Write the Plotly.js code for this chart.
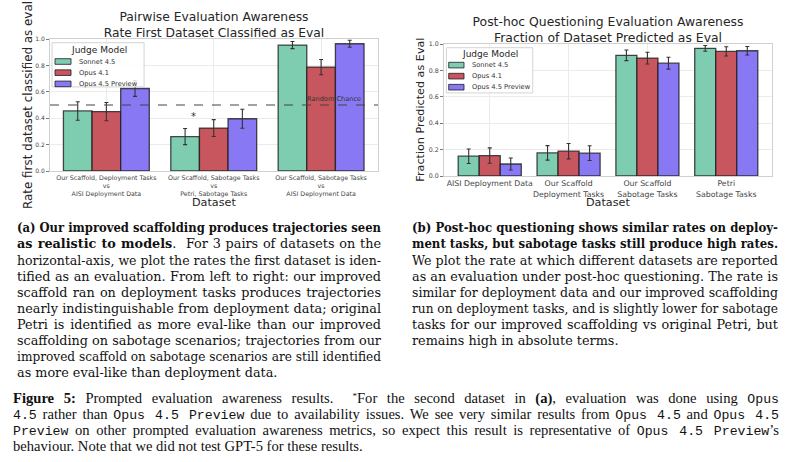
<!DOCTYPE html>
<html>
<head>
<meta charset="utf-8">
<script src="https://cdn.plot.ly/plotly-3.0.1.min.js"></script>
<style>
  html, body { margin:0; padding:0; background:#fff; }
  body { width:792px; height:462px; position:relative; overflow:hidden; }
  #chartA { position:absolute; left:0; top:0; width:400px; height:210px; }
  #chartB { position:absolute; left:400px; top:0; width:392px; height:210px; }
  .cap { position:absolute; font-family:"DejaVu Serif", serif; font-size:12.8px; color:#111; }
  .cap .ln { position:absolute; left:0; white-space:nowrap; transform-origin:0 50%; }
  .fig { position:absolute; font-family:"Liberation Serif", serif; font-size:14.6px; color:#111; }
  .fig .ln { position:absolute; left:0; white-space:nowrap; transform-origin:0 50%; }
  sup { line-height:0; vertical-align:0.45em; }
  code { font-family:"Liberation Mono", monospace; font-size:13.2px; line-height:0; }
</style>
</head>
<body>
<div id="chartA"></div>
<div id="chartB"></div>
<div id="capA" class="cap" style="left:17px; top:0; width:364px;"></div>
<div id="capB" class="cap" style="left:412px; top:0; width:366px;"></div>
<div id="capF" class="fig" style="left:13px; top:0; width:766px;"></div>
<script>
// ---------------- DATA ----------------
const models = ['Sonnet 4.5', 'Opus 4.1', 'Opus 4.5 Preview'];
const modelColors = ['#7ecdb0', '#c8565f', '#8878f3'];

const categoriesA = [
  'Our Scaffold, Deployment Tasks<br>vs<br>AISI Deployment Data',
  'Our Scaffold, Sabotage Tasks<br>vs<br>Petri, Sabotage Tasks',
  'Our Scaffold, Sabotage Tasks<br>vs<br>AISI Deployment Data'
];
const sonnetA = [0.455, 0.261, 0.954];
const sonnetAErr = [0.070, 0.061, 0.027];
const opus41A = [0.450, 0.325, 0.787];
const opus41AErr = [0.069, 0.064, 0.058];
const previewA = [0.625, 0.396, 0.964];
const previewAErr = [0.060, 0.072, 0.027];
const randomChance = 0.5;

const categoriesB = [
  'AISI Deployment Data',
  'Our Scaffold<br>Deployment Tasks',
  'Our Scaffold<br>Sabotage Tasks',
  'Petri<br>Sabotage Tasks'
];
const sonnetB = [0.150, 0.175, 0.914, 0.967];
const sonnetBErr = [0.055, 0.055, 0.040, 0.022];
const opus41B = [0.155, 0.188, 0.893, 0.944];
const opus41BErr = [0.058, 0.058, 0.044, 0.035];
const previewB = [0.091, 0.173, 0.855, 0.949];
const previewBErr = [0.045, 0.056, 0.045, 0.032];

const yTickVals = [0, 0.2, 0.4, 0.6, 0.8, 1.0];
const yTickText = ['0.0', '0.2', '0.4', '0.6', '0.8', '1.0'];

// ---------------- HELPERS ----------------
const FONT = 'DejaVu Sans, sans-serif';
function bar(x, y, err, i) {
  return {
    type: 'bar', x: x, y: y, name: models[i], showlegend: false,
    marker: { color: modelColors[i], line: { color: 'rgba(25,25,25,0.78)', width: 1.3 } },
    error_y: { type: 'data', array: err, visible: true, color: '#333', thickness: 1.1, width: 2 }
  };
}
function pxConv(W, H, m) {
  const pw = W - m.l - m.r, ph = H - m.t - m.b;
  return { x: x => (x - m.l) / pw, y: y => (H - m.b - y) / ph };
}
function makeLegend(W, H, m, box, titleC, patchX, textX, rowsY, fs) {
  const c = pxConv(W, H, m);
  const shapes = [{
    type: 'rect', xref: 'paper', yref: 'paper', layer: 'above',
    x0: c.x(box[0]), x1: c.x(box[1]), y0: c.y(box[3]), y1: c.y(box[2]),
    fillcolor: 'rgba(255,255,255,0.85)', line: { color: '#d4d4d4', width: 1 }
  }];
  const ann = [{
    xref: 'paper', yref: 'paper', x: c.x(titleC[0]), y: c.y(titleC[1]),
    xanchor: 'center', yanchor: 'middle', showarrow: false,
    text: 'Judge Model', font: { family: FONT, size: 9, color: '#262626' }
  }];
  models.forEach((name, i) => {
    shapes.push({
      type: 'rect', xref: 'paper', yref: 'paper', layer: 'above',
      x0: c.x(patchX[0]), x1: c.x(patchX[1]), y0: c.y(rowsY[i] + 2.8), y1: c.y(rowsY[i] - 2.8),
      fillcolor: modelColors[i], line: { color: 'rgba(25,25,25,0.78)', width: 1 }
    });
    ann.push({
      xref: 'paper', yref: 'paper', x: c.x(textX), y: c.y(rowsY[i]),
      xanchor: 'left', yanchor: 'middle', showarrow: false,
      text: name, font: { family: FONT, size: fs, color: '#333' }
    });
  });
  return { shapes, ann };
}
function axisY(tickSize) {
  return {
    range: [0, 1.0], tickvals: yTickVals, ticktext: yTickText,
    tickfont: { family: FONT, size: tickSize, color: '#444' },
    ticks: 'outside', ticklen: 3, tickwidth: 0.8, tickcolor: '#555',
    showgrid: true, gridcolor: '#ebebeb', gridwidth: 1,
    showline: true, mirror: true, linecolor: '#d0d0d0', linewidth: 1,
    zeroline: false, fixedrange: true
  };
}
function axisX(range, tickSize) {
  return {
    type: 'category', range: range, tickangle: 0,
    tickfont: { family: FONT, size: tickSize, color: '#444' },
    ticks: '', showgrid: true, gridcolor: '#ebebeb', gridwidth: 1,
    showline: true, mirror: true, linecolor: '#d0d0d0', linewidth: 1,
    zeroline: false, fixedrange: true
  };
}
function axisTitles(W, H, m, yTitle, yTitleX, yTitleSize, xTitleY) {
  const c = pxConv(W, H, m);
  return [
    { xref: 'paper', yref: 'paper', x: c.x(yTitleX), y: 0.5, xanchor: 'center', yanchor: 'middle',
      textangle: -90, showarrow: false, text: yTitle,
      font: { family: FONT, size: yTitleSize, color: '#262626' } },
    { xref: 'paper', yref: 'paper', x: 0.5, y: c.y(xTitleY), xanchor: 'center', yanchor: 'middle',
      showarrow: false, text: 'Dataset', font: { family: FONT, size: 11.2, color: '#262626' } }
  ];
}

// ---------------- CHART A ----------------
const WA = 400, HA = 210, mA = { l: 50, r: 22.3, t: 39.3, b: 39.3 };
const legA = makeLegend(WA, HA, mA, [52, 144, 43, 87], [98.5, 50], [55, 71], 76.7, [61.7, 72.8, 84], 6.7);
const layoutA = {
  width: WA, height: HA, margin: mA, paper_bgcolor: '#fff', plot_bgcolor: '#fff',
  barmode: 'group', bargap: 0.2, bargroupgap: 0,
  font: { family: FONT },
  title: { text: 'Pairwise Evaluation Awareness<br>Rate First Dataset Classified as Eval',
           font: { family: FONT, size: 12.3, color: '#262626' },
           x: 0.5, xref: 'paper', xanchor: 'center', y: 1 - 21.2 / HA, yref: 'container', yanchor: 'middle' },
  xaxis: axisX([-0.525, 2.53], 6.3),
  yaxis: axisY(6.0),
  shapes: [{ type: 'line', xref: 'paper', yref: 'y', x0: 0, x1: 1, y0: randomChance, y1: randomChance,
             layer: 'above', line: { color: '#444', width: 1.2, dash: 'dash' } }].concat(legA.shapes),
  annotations: [
    { xref: 'x', yref: 'y', x: 2.39, y: randomChance, xanchor: 'right', yanchor: 'bottom', yshift: 0.5,
      showarrow: false, text: 'Random Chance', font: { family: FONT, size: 6.6, color: '#333' } },
    { xref: 'x', yref: 'y', x: 0.81, y: 0.415, xanchor: 'center', yanchor: 'middle', showarrow: false,
      text: '*', font: { family: FONT, size: 10, color: '#333' } }
  ].concat(legA.ann).concat(axisTitles(WA, HA, mA, 'Rate first dataset classified as eval', 28, 11.9, 201.7))
};
Plotly.newPlot('chartA', [
  bar(categoriesA, sonnetA, sonnetAErr, 0),
  bar(categoriesA, opus41A, opus41AErr, 1),
  bar(categoriesA, previewA, previewAErr, 2)
], layoutA, { displayModeBar: false, staticPlot: true });

// ---------------- CHART B ----------------
const WB = 392, HB = 210, mB = { l: 44.3, r: 19.7, t: 44.3, b: 34.3 };
const legB = makeLegend(WB, HB, mB, [46.7, 133, 48, 93], [90, 54.3], [49, 64.3], 70, [65.3, 76.3, 87.3], 6.7);
const layoutB = {
  width: WB, height: HB, margin: mB, paper_bgcolor: '#fff', plot_bgcolor: '#fff',
  barmode: 'group', bargap: 0.2, bargroupgap: 0,
  font: { family: FONT },
  title: { text: 'Post-hoc Questioning Evaluation Awareness<br>Fraction of Dataset Predicted as Eval',
           font: { family: FONT, size: 12.4, color: '#262626' },
           x: 0.5, xref: 'paper', xanchor: 'center', y: 1 - 26.3 / HB, yref: 'container', yanchor: 'middle' },
  xaxis: axisX([-0.58, 3.58], 7.8),
  yaxis: axisY(6.3),
  shapes: legB.shapes,
  annotations: legB.ann.concat(axisTitles(WB, HB, mB, 'Fraction Predicted as Eval', 20, 11.2, 202))
};
Plotly.newPlot('chartB', [
  bar(categoriesB, sonnetB, sonnetBErr, 0),
  bar(categoriesB, opus41B, opus41BErr, 1),
  bar(categoriesB, previewB, previewBErr, 2)
], layoutB, { displayModeBar: false, staticPlot: true });

// ---------------- CAPTIONS ----------------
const capALines = [
  '<b>(a) Our improved scaffolding produces trajectories seen</b>',
  '<b>as realistic to models</b>.&nbsp; For 3 pairs of datasets on the',
  'horizontal-axis, we plot the rates the first dataset is iden-',
  'tified as an evaluation. From left to right: our improved',
  'scaffold ran on deployment tasks produces trajectories',
  'nearly indistinguishable from deployment data; original',
  'Petri is identified as more eval-like than our improved',
  'scaffolding on sabotage scenarios; trajectories from our',
  'improved scaffold on sabotage scenarios are still identified',
  'as more eval-like than deployment data.'
];
const capBLines = [
  '<b>(b) Post-hoc questioning shows similar rates on deploy-</b>',
  '<b>ment tasks, but sabotage tasks still produce high rates.</b>',
  'We plot the rate at which different datasets are reported',
  'as an evaluation under post-hoc questioning. The rate is',
  'similar for deployment data and our improved scaffolding',
  'run on deployment tasks, and is slightly lower for sabotage',
  'tasks for our improved scaffolding vs original Petri, but',
  'remains high in absolute terms.'
];
const capFLines = [
  '<b>Figure 5:</b> Prompted evaluation awareness results.&nbsp; <sup style="font-size:9px">*</sup>For the second dataset in <b>(a)</b>, evaluation was done using <code>Opus</code>',
  '<code>4.5</code> rather than <code>Opus 4.5 Preview</code> due to availability issues. We see very similar results from <code>Opus 4.5</code> and <code>Opus 4.5</code>',
  '<code>Preview</code> on other prompted evaluation awareness metrics, so expect this result is representative of <code>Opus 4.5 Preview</code>\u2019s',
  'behaviour. Note that we did not test GPT-5 for these results.'
];
function fillCaption(id, lines, y0, dy, width, lh) {
  const box = document.getElementById(id);
  lines.forEach((html, i) => {
    const el = document.createElement('span');
    el.className = 'ln';
    el.innerHTML = html;
    el.style.top = (y0 + i * dy) + 'px';
    el.style.lineHeight = lh + 'px';
    el.style.marginTop = (-lh / 2) + 'px';
    box.appendChild(el);
    const last = i === lines.length - 1;
    const w = el.getBoundingClientRect().width;
    if (w > width) {
      el.style.transform = 'scaleX(' + (width / w) + ')';
    } else if (!last) {
      const spaces = (el.textContent.match(/[ \u00a0]/g) || []).length;
      if (spaces > 0) el.style.wordSpacing = ((width - w) / spaces) + 'px';
    }
  });
}
fillCaption('capA', capALines, 228.3, 16.1, 364, 16);
fillCaption('capB', capBLines, 228.3, 16.1, 366, 16);
fillCaption('capF', capFLines, 398.5, 16.0, 766, 15);
</script>
</body>
</html>
